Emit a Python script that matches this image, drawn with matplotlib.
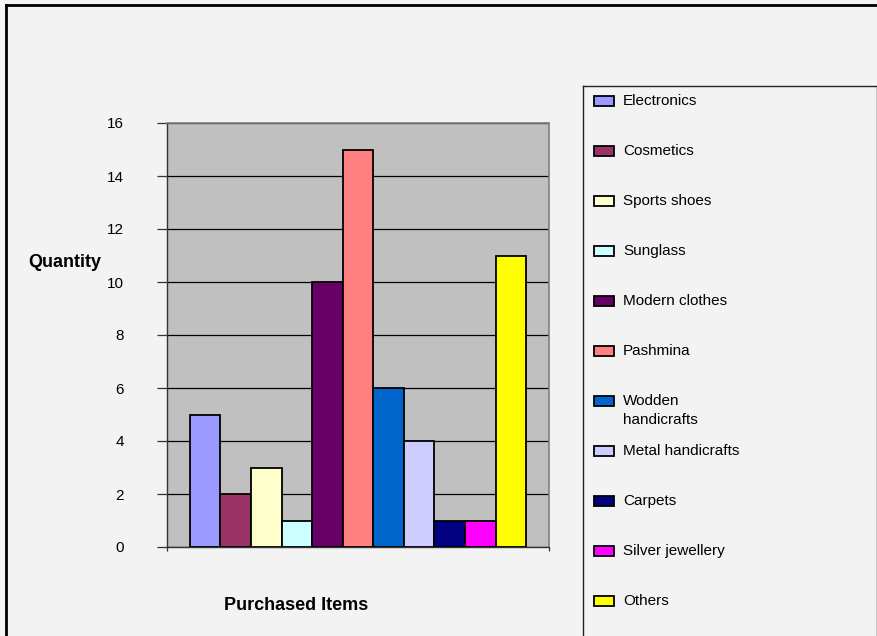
import numpy as np
import matplotlib
matplotlib.use("Agg")
import matplotlib.pyplot as plt
from matplotlib.patches import Rectangle
from matplotlib.lines import Line2D

plt.rcParams['font.family'] = ['Liberation Sans', 'DejaVu Sans']

# Barang yang dibeli dan jumlahnya
items = ["Electronics", "Cosmetics", "Sports shoes", "Sunglass", "Modern clothes",
         "Pashmina", "Wodden\nhandicrafts", "Metal handicrafts", "Carpets",
         "Silver jewellery", "Others"]
quantity = [5, 2, 3, 1, 10, 15, 6, 4, 1, 1, 11]
warna = ["#9999FF", "#993366", "#FFFFCC", "#CCFFFF", "#660066", "#FF8080",
         "#0066CC", "#CCCCFF", "#000080", "#FF00FF", "#FFFF00"]
y_ticks = [0, 2, 4, 6, 8, 10, 12, 14, 16]

W, H = 878, 636
fig = plt.figure(figsize=(W / 100, H / 100), dpi=100, facecolor="#f3f3f3")

# Area plot utama
ax = fig.add_axes([167 / W, 1 - 547 / H, 382 / W, 424 / H])
ax.set_facecolor("#c0c0c0")
posisi = np.arange(len(quantity))
ax.bar(posisi, quantity, width=1.0, color=warna, edgecolor="black",
       linewidth=1.3, zorder=3)
ax.set_xlim(-1.25, len(quantity) + 0.25)
ax.set_ylim(0, 16)
ax.set_yticks(y_ticks)
ax.set_xticks([-1.25, len(quantity) + 0.25])
ax.set_xticklabels([])
ax.grid(axis="y", color="black", linewidth=0.9, zorder=1)
ax.tick_params(axis="y", length=7, width=0.9, pad=24, labelsize=11, color="#333333")
ax.tick_params(axis="x", length=3, width=0.9, color="#333333")
for s in ["top", "right"]:
    ax.spines[s].set_color("#808080")
    ax.spines[s].set_linewidth(1.2)
for s in ["left", "bottom"]:
    ax.spines[s].set_color("#333333")
    ax.spines[s].set_linewidth(1.0)

ax.set_ylabel("Quantity", fontsize=13, fontweight="bold", rotation=0,
              ha="center", va="center")
ax.yaxis.set_label_coords(-0.267, 0.672)
ax.set_xlabel("Purchased Items", fontsize=13, fontweight="bold",
              ha="center", va="center")
ax.xaxis.set_label_coords(0.338, -0.137)

# Kotak legenda (digambar manual, satuan piksel dari atas)
leg = fig.add_axes([583 / W, -0.03, 294 / W, 0.8648 + 0.03])
leg.set_facecolor("#f3f3f3")
leg.set_xlim(0, 294)
leg.set_ylim((0.8648 + 0.03) * H, 0)
leg.set_xticks([])
leg.set_yticks([])
leg.spines["bottom"].set_visible(False)
for s in ["top", "left", "right"]:
    leg.spines[s].set_color("#222222")
    leg.spines[s].set_linewidth(1.0)

for i, (nama, c) in enumerate(zip(items, warna)):
    yc = 15 + 50 * i
    leg.add_patch(Rectangle((11, yc - 5), 20, 10, facecolor=c,
                            edgecolor="black", linewidth=1.3))
    for k, baris in enumerate(nama.split("\n")):
        leg.text(40, yc + 19 * k, baris, fontsize=11, va="center", ha="left")

# Bingkai luar grafik
fig.add_artist(Line2D([6 / W, 6 / W], [0, 1 - 5 / H], color="black", linewidth=2))
fig.add_artist(Line2D([6 / W, 1], [1 - 5 / H, 1 - 5 / H], color="black", linewidth=2))

fig.savefig("out.png", dpi=100, facecolor=fig.get_facecolor())
